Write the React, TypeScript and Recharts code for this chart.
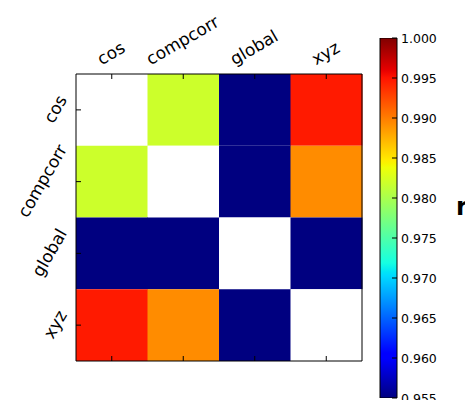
import React from 'react';
import { BarChart, Bar, XAxis, YAxis, Cell } from 'recharts';

const labels = ['cos', 'compcorr', 'global', 'xyz'];

// correlation between methods, one row per label (diagonal left blank -> white)
const rowCos = [null, 0.9819, 0.93, 0.9947];
const rowCompcorr = [0.9819, null, 0.93, 0.9893];
const rowGlobal = [0.93, 0.93, null, 0.93];
const rowXyz = [0.9947, 0.9893, 0.93, null];
const rows = [rowCos, rowCompcorr, rowGlobal, rowXyz];

const vmin = 0.955;
const vmax = 1.0;
const cbarTicks = [0.955, 0.96, 0.965, 0.97, 0.975, 0.98, 0.985, 0.99, 0.995, 1.0];
const cbarRange = [{ name: 'r', range: [vmin, vmax] }];

const FONT = '"DejaVu Sans", sans-serif';

// matplotlib "jet" segment data
const jetR = [[0, 0], [0.35, 0], [0.66, 1], [0.89, 1], [1, 0.5]];
const jetG = [[0, 0], [0.125, 0], [0.375, 1], [0.64, 1], [0.91, 0], [1, 0]];
const jetB = [[0, 0.5], [0.11, 1], [0.34, 1], [0.65, 0], [1, 0]];
const jetStops = [0, 0.11, 0.125, 0.34, 0.35, 0.375, 0.64, 0.65, 0.66, 0.89, 0.91, 1];

function seg(pts: number[][], t: number) {
  for (let i = 1; i < pts.length; i++) {
    if (t <= pts[i][0]) {
      const [x0, y0] = pts[i - 1];
      const [x1, y1] = pts[i];
      return y0 + ((t - x0) / (x1 - x0)) * (y1 - y0);
    }
  }
  return pts[pts.length - 1][1];
}

function jet(t: number) {
  const c = Math.max(0, Math.min(1, t));
  const r = Math.round(seg(jetR, c) * 255);
  const g = Math.round(seg(jetG, c) * 255);
  const b = Math.round(seg(jetB, c) * 255);
  return `rgb(${r},${g},${b})`;
}

function colorFor(v: number | null) {
  if (v == null) return '#ffffff';
  return jet((v - vmin) / (vmax - vmin));
}

const tableData = labels.map((col) => {
  const row: any = { col };
  labels.forEach((l) => (row[l] = 1));
  return row;
});

let ctx: CanvasRenderingContext2D | null = null;
function textWidth(s: string, size: number) {
  if (!ctx) ctx = document.createElement('canvas').getContext('2d');
  if (!ctx) return s.length * size * 0.6;
  ctx.font = `${size}px "DejaVu Sans"`;
  return ctx.measureText(s).width;
}

const LABEL_SIZE = 17;
const TICK_LEN = 5;
const PAD = 5;

const TopTick = (props: any) => {
  const { x, y, payload } = props;
  const s = LABEL_SIZE;
  const L = textWidth(payload.value, s);
  const h = s;
  const a = Math.PI / 6;
  const boxH = L * Math.sin(a) + h * Math.cos(a);
  const cy = y - PAD - boxH / 2;
  return (
    <g>
      <line x1={x} x2={x} y1={y} y2={y + TICK_LEN} stroke="#000" />
      <text
        transform={`translate(${x},${cy}) rotate(-30)`}
        textAnchor="middle"
        dy={0.26 * s}
        fontSize={s}
        fontFamily={FONT}
        fill="#000"
      >
        {payload.value}
      </text>
    </g>
  );
};

const LeftTick = (props: any) => {
  const { x, y, payload } = props;
  const s = LABEL_SIZE;
  const name = labels[Math.floor(payload.value)];
  const L = textWidth(name, s);
  const h = s;
  const a = Math.PI / 3;
  const boxW = L * Math.cos(a) + h * Math.sin(a);
  const cx = x - PAD - boxW / 2;
  return (
    <g>
      <line x1={x} x2={x + TICK_LEN} y1={y} y2={y} stroke="#000" />
      <text
        transform={`translate(${cx},${y}) rotate(-60)`}
        textAnchor="middle"
        dy={0.26 * s}
        fontSize={s}
        fontFamily={FONT}
        fill="#000"
      >
        {name}
      </text>
    </g>
  );
};

const BottomTick = (props: any) => {
  const { x, y } = props;
  return <line x1={x} x2={x} y1={y} y2={y - TICK_LEN} stroke="#000" />;
};

const RightTick = (props: any) => {
  const { x, y } = props;
  return <line x1={x - TICK_LEN} x2={x} y1={y} y2={y} stroke="#000" />;
};

const CbarTick = (props: any) => {
  const { x, y, payload } = props;
  return (
    <g>
      <line x1={x - TICK_LEN} x2={x} y1={y} y2={y} stroke="#000" />
      <text x={x + 4} y={y} dy={4.5} fontSize={12.5} fontFamily={FONT} fill="#000">
        {Number(payload.value).toFixed(3)}
      </text>
    </g>
  );
};

const CbarLabel = (props: any) => {
  const { viewBox } = props;
  const mid = viewBox.y + viewBox.height / 2;
  return (
    <text x={viewBox.x + 59} y={mid - 3} fontSize={24} fontWeight="bold" fontFamily={FONT} fill="#000">
      r
    </text>
  );
};

export default function App() {
  return (
    <div style={{ position: 'absolute', left: 0, top: 0, width: 465, height: 400, background: '#fff' }}>
      <div style={{ position: 'absolute', left: 0, top: 0 }}>
        <BarChart
          width={465}
          height={400}
          data={tableData}
          margin={{ top: 44, left: 46, right: 73, bottom: 9 }}
          barCategoryGap={0}
          barGap={0}
        >
          {labels.map((rowName, i) => (
            <Bar key={rowName} dataKey={rowName} stackId="m" isAnimationActive={false}>
              {tableData.map((d, j) => (
                <Cell key={d.col} fill={colorFor(rows[i][j])} />
              ))}
            </Bar>
          ))}
          <XAxis
            dataKey="col"
            type="category"
            orientation="top"
            height={30}
            tickSize={0}
            tickMargin={0}
            tick={<TopTick />}
            axisLine={{ stroke: '#000' }}
            interval={0}
          />
          <XAxis
            xAxisId="b"
            dataKey="col"
            type="category"
            orientation="bottom"
            height={30}
            tickSize={0}
            tickMargin={0}
            tick={<BottomTick />}
            axisLine={{ stroke: '#000' }}
            interval={0}
          />
          <YAxis
            type="number"
            domain={[0, 4]}
            reversed
            ticks={[0.5, 1.5, 2.5, 3.5]}
            width={30}
            tickSize={0}
            tickMargin={0}
            tick={<LeftTick />}
            axisLine={{ stroke: '#000' }}
            interval={0}
          />
          <YAxis
            yAxisId="r"
            type="number"
            orientation="right"
            domain={[0, 4]}
            reversed
            ticks={[0.5, 1.5, 2.5, 3.5]}
            width={30}
            tickSize={0}
            tickMargin={0}
            tick={<RightTick />}
            axisLine={{ stroke: '#000' }}
            interval={0}
          />
        </BarChart>
      </div>
      <div style={{ position: 'absolute', left: 0, top: 0 }}>
        <BarChart
          width={465}
          height={400}
          data={cbarRange}
          margin={{ top: 38, left: 380, right: 8, bottom: 2 }}
          barCategoryGap={0}
        >
          <defs>
            <linearGradient id="jetGrad" x1="0" y1="1" x2="0" y2="0">
              {jetStops.map((t) => (
                <stop key={t} offset={`${t * 100}%`} stopColor={jet(t)} />
              ))}
            </linearGradient>
          </defs>
          <XAxis dataKey="name" hide />
          <YAxis
            orientation="right"
            type="number"
            domain={[vmin, vmax]}
            allowDataOverflow
            ticks={cbarTicks}
            interval={0}
            width={60}
            tickSize={0}
            tickMargin={0}
            tick={<CbarTick />}
            axisLine={false}
            label={<CbarLabel />}
          />
          <Bar dataKey="range" fill="url(#jetGrad)" stroke="#000" strokeWidth={1} isAnimationActive={false} />
        </BarChart>
      </div>
    </div>
  );
}
